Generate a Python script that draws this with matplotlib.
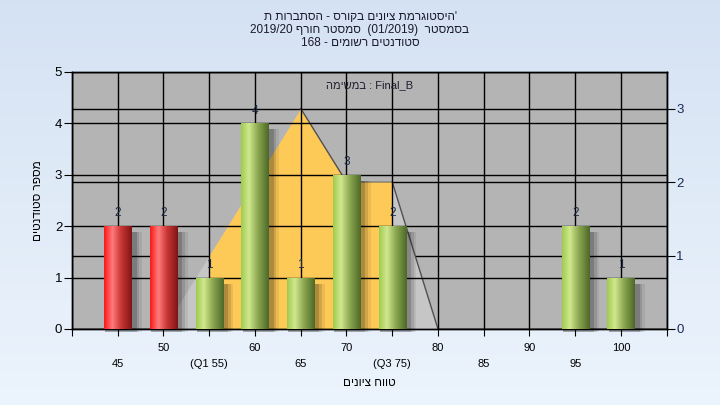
import numpy as np
import matplotlib
matplotlib.use('Agg')
import matplotlib.pyplot as plt
from matplotlib.patches import Rectangle

plt.rcParams['font.family'] = ['Liberation Sans', 'DejaVu Sans']

# data
grades = [45, 50, 55, 60, 65, 70, 75, 80, 85, 90, 95, 100]
counts = [2, 2, 1, 4, 1, 3, 2, 0, 0, 0, 2, 1]
pass_mark = 55
q1, q3 = 55, 75
tick_names = ['45', '50', '(Q1 55)', '60', '65', '70', '(Q3 75)', '80', '85', '90', '95', '100']

# distribution shape (right axis)
dist_grades = [50, 55, 65, 70, 75, 80]
dist_vals = [0, 1, 3, 2, 2, 0]

# Hebrew strings, stored in visual (left to right) order for matplotlib
title1 = "היסטוגרמת ציונים בקורס - הסתברות ת"[::-1] + "'"
title2 = "2019/20 " + "סמסטר חורף"[::-1] + "  (01/2019)  " + "בסמסטר"[::-1]
title3 = "168 - " + "סטודנטים רשומים"[::-1]
ylabel = "מספר סטודנטים"[::-1]
xlabel = "טווח ציונים"[::-1]
note = "במשימה"[::-1] + " : Final_B"


def pos(g):
    return (np.asarray(g) - 40) / 5.0


def gradient(stops, n=64):
    t = np.linspace(0, 1, n)
    ps = [s[0] for s in stops]
    rgb = np.array([s[1] for s in stops])
    return np.stack([np.interp(t, ps, rgb[:, k]) for k in range(3)], axis=-1)[None, :, :]


red_grad = gradient([(0, (0.97, 0.10, 0.10)), (0.3, (1.0, 0.48, 0.48)),
                     (0.6, (0.80, 0.22, 0.22)), (1, (0.50, 0.08, 0.08))])
green_grad = gradient([(0, (0.62, 0.80, 0.30)), (0.28, (0.82, 0.91, 0.56)),
                       (0.6, (0.55, 0.66, 0.32)), (1, (0.30, 0.41, 0.15))])

fig = plt.figure(figsize=(7.2, 4.05), dpi=100)

# background gradient (top to bottom)
bg = fig.add_axes([0, 0, 1, 1], zorder=-5)
bg_grad = gradient([(0, (0.835, 0.886, 0.953)), (1, (0.925, 0.957, 0.99))], 256)
bg.imshow(bg_grad.transpose(1, 0, 2), aspect='auto', extent=[0, 1, 0, 1], origin='upper')
bg.axis('off')

ax = fig.add_axes([0.1, 0.1877, 0.826, 0.635])
ax2 = ax.twinx()
ax2.set_zorder(-1)
ax.patch.set_visible(False)
ax2.patch.set_visible(True)
ax2.patch.set_facecolor('#b4b4b4')

ax.set_xlim(0, 13)
ax.set_ylim(0, 5)
ax2.set_ylim(0, 3.5)

# grid lines
ax.set_xticks(np.arange(0, 14))
ax.set_yticks(range(0, 6))
ax2.set_yticks(range(0, 4))
ax.grid(True, color='black', linewidth=1, zorder=0)
ax2.grid(True, axis='y', color='black', linewidth=1)

# distribution area (right axis scale)
dx = pos(dist_grades)
inside = [(g >= q1) and (g <= q3) for g in dist_grades]
ax.fill_between(dx, dist_vals, color='#c6c6c6', linewidth=0, transform=ax2.transData, zorder=1)
ax.fill_between(dx, dist_vals, where=inside, color='#fdc957', linewidth=0,
                transform=ax2.transData, zorder=1.1)
ax.plot(dx[2:4], dist_vals[2:4], color='#505050', linewidth=1, transform=ax2.transData, zorder=1.2)
ax.plot(dx[4:6], dist_vals[4:6], color='#505050', linewidth=1, transform=ax2.transData, zorder=1.2)

# bars with cylinder shading and soft shadow
bx = pos(grades)
bars = ax.bar(bx, counts, width=0.6, color='none', linewidth=0, zorder=3)
for b, g, c in zip(bars, grades, counts):
    if c == 0:
        continue
    x0, w, h = b.get_x(), b.get_width(), b.get_height()
    for d, a in [(0.2, 0.07), (0.14, 0.11), (0.08, 0.17)]:
        ax.add_patch(Rectangle((x0 + 0.03, -0.06), w + d, h - 0.06, color='black',
                               alpha=a, linewidth=0, zorder=2, clip_on=False))
    im = ax.imshow(red_grad if g < pass_mark else green_grad, aspect='auto',
                   extent=[x0, x0 + w, 0, h], zorder=3, interpolation='bilinear')
    im.set_clip_path(b)
    ax.text(b.get_x() + w / 2, h + 0.13, str(c), ha='center', va='bottom',
            fontsize=8.5, color='#1e2a44', zorder=4)

ax.set_xlim(0, 13)
ax.set_ylim(0, 5)

# x tick labels in two rows
ax.xaxis.remove_overlapping_locs = False
ax.set_xticks(bx, minor=True)
ax.set_xticklabels([])
ax.set_xticklabels([n if i % 2 == 1 else '\n' + n for i, n in enumerate(tick_names)], minor=True)
for lbl in ax.get_xticklabels(minor=True):
    lbl.set_linespacing(1.75)
ax.tick_params(axis='x', which='minor', length=0, pad=10, labelsize=8)
ax.tick_params(axis='x', which='major', length=5, color='black')
ax.tick_params(axis='y', length=6, labelsize=9.5, pad=1)
ax2.tick_params(axis='y', length=6, labelsize=9.5, pad=1, labelcolor='#1a2a55')

for a in (ax, ax2):
    for s in a.spines.values():
        s.set_color('black')
        s.set_linewidth(1)

ax.text(0.5, 0.95, note, transform=ax.transAxes, ha='center', va='center',
        fontsize=8, color='#1e1e2e', zorder=5)

ax.set_ylabel(ylabel, fontsize=8.5, labelpad=8)
ax.set_xlabel(xlabel, fontsize=8.5, labelpad=6)

fig.text(0.5, 1 - 17 / 405, title1, ha='center', va='center', fontsize=8.5, color='#1a1a2a')
fig.text(0.5, 1 - 30 / 405, title2, ha='center', va='center', fontsize=8.5, color='#1a1a2a')
fig.text(0.5, 1 - 43 / 405, title3, ha='center', va='center', fontsize=8.5, color='#1a1a2a')

fig.savefig('out.png', dpi=100)
